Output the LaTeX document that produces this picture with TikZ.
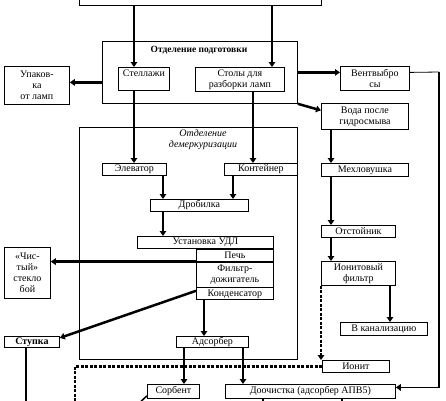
\documentclass[tikz,border=0pt]{standalone}
\usepackage{fontspec}
\setmainfont{Liberation Serif}
\usetikzlibrary{arrows.meta,positioning,calc}

\begin{document}
\begin{tikzpicture}[
  x=1pt, y=-1pt,
  font=\fontsize{10}{11}\selectfont,
  n/.style={draw, line width=0.8pt, align=center, inner sep=0pt, anchor=north west},
  fr/.style={draw, line width=0.8pt, inner sep=0pt, anchor=north west},
  d/.style={-{Triangle[length=5pt,width=6.5pt]}, line width=2.5pt},
  dt/.style={line width=2.5pt, dash pattern=on 3pt off 1.5pt}
]
\useasboundingbox (0,0) rectangle (446,400);
\node[fr, minimum width=242pt, minimum height=25pt] (top) at (79,-20) {};
\node[fr, minimum width=195pt, minimum height=62pt] (prep) at (102,41) {};
\node[font=\fontsize{9.5}{11}\selectfont\bfseries] (ptitle) at (199,50) {Отделение подготовки};
\node[fr, minimum width=218pt, minimum height=232pt] (dem) at (79,127) {};
\node[font=\fontsize{10}{11}\selectfont\itshape, align=center] (dtitle) at (203,140) {Отделение\\демеркуризации};

\node[n, minimum width=51pt, minimum height=23pt] (st) at (118,67) {Стеллажи\\~};
\node[n, minimum width=89pt, minimum height=24pt] (tbl) at (195,67) {Столы для\\разборки ламп};
\node[n, minimum width=65pt, minimum height=38pt] (pack) at (4,66) {Упаков-\\ка\\от ламп};
\node[n, minimum width=69pt, minimum height=24pt] (vent) at (340,66) {Вентвыбро\\сы};
\node[n, minimum width=87pt, minimum height=26pt] (water) at (321,103) {Вода после\\гидросмыва};
\node[n, minimum width=64pt, minimum height=12pt] (elev) at (102,163) {Элеватор};
\node[n, minimum width=73pt, minimum height=12pt] (cont) at (224,163) {Контейнер};
\node[n, minimum width=87pt, minimum height=13pt] (mech) at (321,163) {Мехловушка};
\node[n, minimum width=98pt, minimum height=12pt] (crush) at (150,199) {Дробилка};
\node[n, minimum width=74pt, minimum height=12pt] (sett) at (321,225) {Отстойник};
\node[n, minimum width=136pt, minimum height=12pt] (udl) at (137,236) {Установка УДЛ};
\node[n, minimum width=77pt, minimum height=12pt, anchor=north east] (oven) at (udl.south east) {Печь};
\node[n, minimum width=77pt, minimum height=25pt, anchor=north east] (filt) at (oven.south east) {Фильтр-\\дожигатель};
\node[n, minimum width=77pt, minimum height=12pt, anchor=north east] (cond) at (filt.south east) {Конденсатор};
\node[n, minimum width=46pt, minimum height=51pt] (clean) at (4,247) {«Чис-\\тый»\\стекло\\бой};
\node[n, minimum width=74pt, minimum height=24pt] (ionf) at (321,261) {Ионитовый\\фильтр};
\node[n, minimum width=87pt, minimum height=13pt] (sewer) at (340,322) {В канализацию};
\node[n, minimum width=55pt, minimum height=11pt, font=\fontsize{10}{11}\selectfont\bfseries] (mortar) at (4,336) {Ступка};
\node[n, minimum width=72pt, minimum height=11pt] (ads) at (176,336) {Адсорбер};
\node[n, minimum width=67pt, minimum height=12pt] (ionit) at (322,360) {Ионит};
\node[n, minimum width=52pt, minimum height=14pt] (sorb) at (147,384) {Сорбент};
\node[n, minimum width=170pt, minimum height=14pt] (post) at (225,384) {Доочистка (адсорбер АПВ5)};

\coordinate (rc) at (439,72);
\coordinate (dl) at (75,406);
\coordinate (ml) at (26,406);
\coordinate (p1) at (263,406);
\coordinate (p2) at (342,406);
\coordinate (sl) at (137,405);

\draw[d] ($(top.south west)+(55,0)$) -- ($(st.north west)+(16,0)$);
\draw[d] ($(top.south west)+(193,0)$) -- ($(tbl.north west)+(77,0)$);
\draw[d] ($(prep.west)+(0,10)$) -- ($(pack.east)+(0,-3)$);
\draw[d] (prep.east) -- (prep.east -| vent.west);
\draw[d] (prep.south east) -- ($(water.west)+(0,-6)$);
\draw[line width=0.8pt] ($(vent.east)+(0,-6)$) -- (rc);
\draw[-{Triangle[length=5pt,width=6.5pt]}, line width=1.6pt] (rc) |- ($(post.east)+(0,-4)$);
\draw[d] ($(water.south west)+(10,0)$) -- ($(mech.north west)+(10,0)$);
\draw[d] ($(mech.south west)+(10,0)$) -- ($(sett.north west)+(10,0)$);
\draw[d] ($(sett.south west)+(10,0)$) -- ($(ionf.north west)+(10,0)$);
\draw[d] ($(ionf.south west)+(69,0)$) -- ($(sewer.north west)+(50,0)$);
\draw[dt, -{Triangle[length=5pt,width=6.5pt]}] (ionf.south west) -- (ionf.south west |- ionit.north);
\draw[dt] (ionit.west) -| (dl);
\draw[d] ($(st.south west)+(16,0)$) -- ($(elev.north west)+(32,0)$);
\draw[d] ($(tbl.south west)+(58,0)$) -- ($(cont.north west)+(29,0)$);
\draw[d] ($(elev.south west)+(61,0)$) -- ($(crush.north west)+(13,0)$);
\draw[d] ($(cont.south west)+(9,0)$) -- ($(crush.north west)+(83,0)$);
\draw[d] ($(crush.south west)+(13,0)$) -- ($(udl.north west)+(26,0)$);
\draw[d] (oven.south west) -- (oven.south west -| clean.east);
\draw[d] ($(cond.west)+(0,-3)$) -- ($(mortar.east)+(0,-4)$);
\draw[d] ($(cond.south west)+(8,0)$) -- ($(ads.north west)+(28,0)$);
\draw[d] ($(ads.south west)+(8,0)$) -- ($(sorb.north west)+(37,0)$);
\draw[d] ($(ads.south west)+(67,0)$) -- ($(post.north west)+(18,0)$);
\draw[line width=2.5pt] ($(mortar.south west)+(22,0)$) -- (ml);
\draw[line width=2.5pt] (post.south west -| p1) -- (p1);
\draw[line width=2.5pt] (post.south west -| p2) -- (p2);
\draw[line width=1.5pt] (sl) -- ($(sorb.south west)+(0,-3)$);
\end{tikzpicture}
\end{document}
